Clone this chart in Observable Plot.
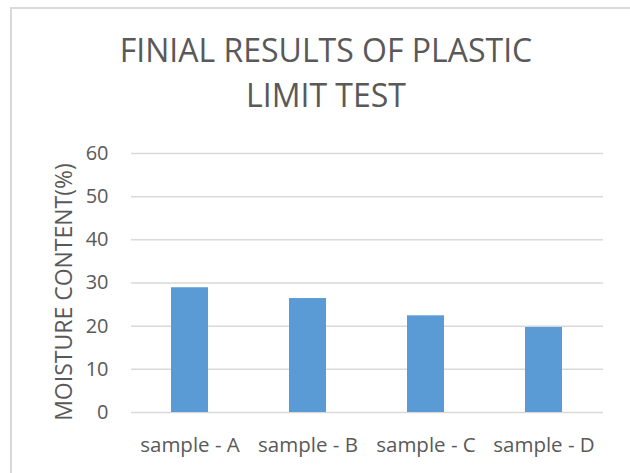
<!DOCTYPE html>
<html>
<head>
<meta charset="utf-8">
<script src="https://cdn.jsdelivr.net/npm/d3@7"></script>
<script src="https://cdn.jsdelivr.net/npm/@observablehq/plot@0.6"></script>
<style>
  html, body { margin: 0; padding: 0; background: #ffffff; }
  #wrap { position: relative; width: 630px; height: 473px; overflow: hidden; background: #fff; font-family: "Open Sans", sans-serif; color: #595959; }
  #frame { position: absolute; left: 10px; top: 7px; width: 640px; height: 480px; border-top: 2px solid #d9d9d9; border-left: 2px solid #d9d9d9; box-sizing: border-box; }
  .title { position: absolute; left: 0; width: 652px; font-size: 32px; line-height: 32px; text-align: center; white-space: nowrap; color: #595959; }
  #chart { position: absolute; left: 0; top: 130px; }
</style>
</head>
<body>
<div id="wrap">
  <div id="frame"></div>
  <div class="title" id="t1" style="top:33.5px;">FINIAL RESULTS OF PLASTIC</div>
  <div class="title" id="t2" style="top:78.5px;">LIMIT TEST</div>
  <div id="chart"></div>
</div>
<script>
const categories = ["sample - A", "sample - B", "sample - C", "sample - D"];
const moisture = [28.9, 26.4, 22.4, 19.7];
const yTicks = [0, 10, 20, 30, 40, 50, 60];
const yLabel = "MOISTURE CONTENT(%)";

const data = categories.map((c, i) => ({sample: c, value: moisture[i]}));

const chart = Plot.plot({
  width: 630,
  height: 343,
  marginTop: 23,
  marginBottom: 61,
  marginLeft: 131,
  marginRight: 27,
  style: {fontFamily: "Open Sans, sans-serif", color: "#595959", background: "transparent", overflow: "visible"},
  x: {domain: categories, paddingInner: 0.686, paddingOuter: 0.343, label: null},
  y: {domain: [0, 60], label: null},
  marks: [
    Plot.ruleY(yTicks, {stroke: "#d9d9d9", strokeWidth: 1.5, strokeOpacity: 1}),
    Plot.barY(data, {x: "sample", y: "value", fill: "#5b9bd5"}),
    Plot.axisY({ticks: yTicks, tickSize: 0, tickPadding: 23, fontSize: 20, label: null, fill: "#595959"}),
    Plot.axisX({tickSize: 0, tickPadding: 25, fontSize: 20.5, label: null, fill: "#595959"}),
    Plot.text([yLabel], {frameAnchor: "left", text: d => d, rotate: -90, textAnchor: "middle", lineAnchor: "bottom", dx: -60, dy: 9, fontSize: 23, fill: "#595959"})
  ]
});
document.getElementById("chart").appendChild(chart);
</script>
</body>
</html>
